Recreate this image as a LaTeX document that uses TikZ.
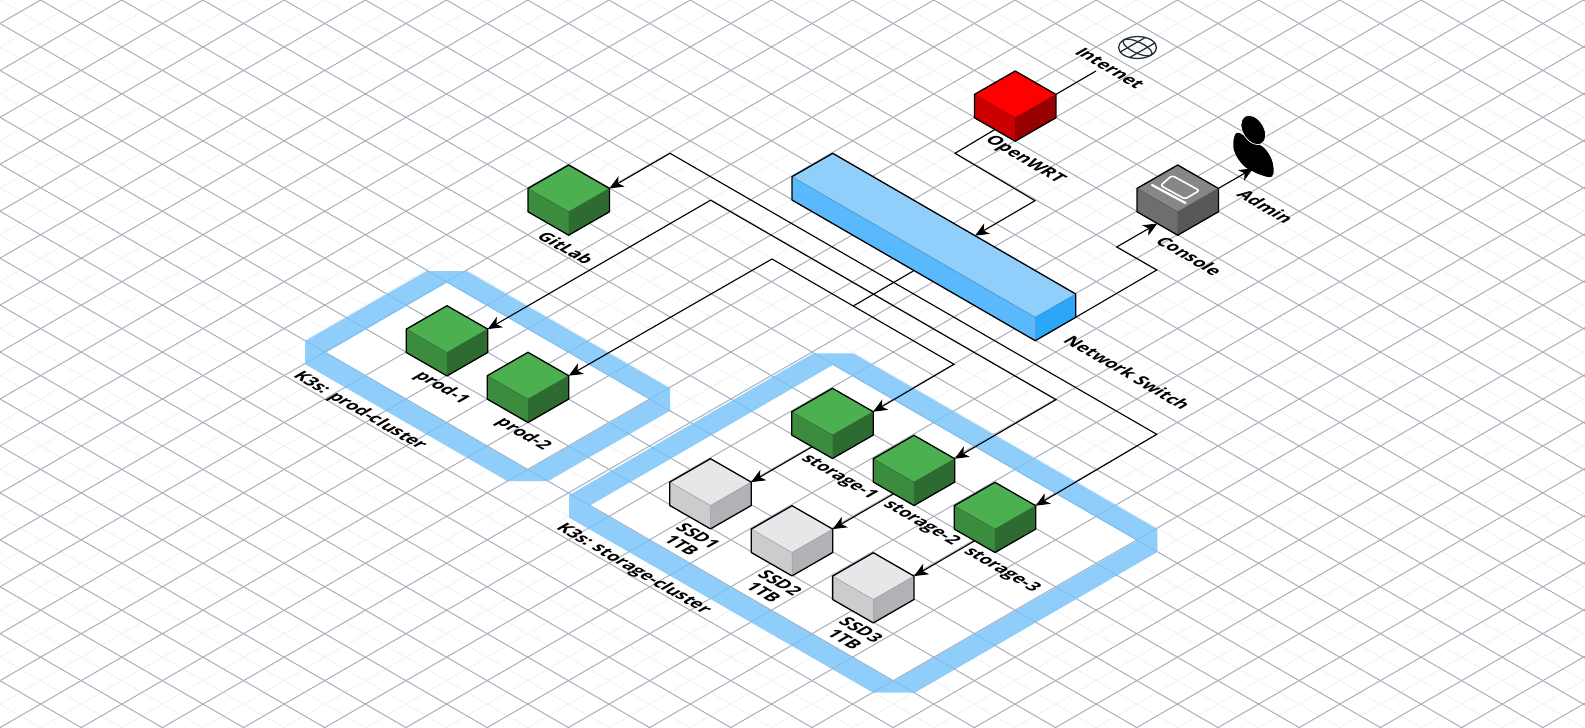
\documentclass[tikz,border=0pt]{standalone}
\usepackage{fontspec}
\setmainfont{Open Sans}
\usetikzlibrary{arrows.meta}
\definecolor{gridmajor}{HTML}{A8B0BC}
\definecolor{gridminor}{HTML}{F1F1F1}
\definecolor{frameblue}{HTML}{74C2FB}
\definecolor{green1}{HTML}{4CAF50}
\definecolor{green2}{HTML}{3C8C40}
\definecolor{green3}{HTML}{2E6B30}
\definecolor{grey1}{HTML}{E6E7E9}
\definecolor{grey2}{HTML}{CBCCCE}
\definecolor{grey3}{HTML}{B1B2B5}
\definecolor{red1}{HTML}{FF0000}
\definecolor{red2}{HTML}{CC0000}
\definecolor{red3}{HTML}{990000}
\definecolor{dark1}{HTML}{878787}
\definecolor{dark2}{HTML}{6E6E6E}
\definecolor{dark3}{HTML}{585858}
\definecolor{blue1}{HTML}{90CEFC}
\definecolor{blue2}{HTML}{5AB9FC}
\definecolor{blue3}{HTML}{2BA6F9}
\definecolor{globeink}{HTML}{232F3E}
\tikzset{
	link/.style={line width=1.1pt,-{Stealth[length=14pt,width=12pt,inset=4pt]}},
	wire/.style={line width=1.1pt},
	edgeline/.style={black,line width=1.3pt,line join=round},
	isotext/.style={font=\bfseries\fontsize{17.3}{19}\selectfont,black,align=center,inner sep=0pt,
		cm={.866,-.5,.866,.5,(0,0)}},
	clusterband/.style={fill=frameblue,even odd rule,opacity=.8},
}
% \isobox{name}{x}{y}{top}{left}{right}
\newcommand{\isobox}[6]{
	\coordinate (#1-t) at (#2,#3);
	\coordinate (#1-r) at (#2+40.7,#3+23.4);
	\coordinate (#1-l) at (#2-40.7,#3+23.4);
	\coordinate (#1-f) at (#2,#3+46.8);
	\coordinate (#1-rb) at (#2+40.7,#3+46.8);
	\coordinate (#1-lb) at (#2-40.7,#3+46.8);
	\coordinate (#1-fb) at (#2,#3+70.2);
	\coordinate (#1-out) at (#2-20.3,#3+58.5);
	\fill[#4] (#1-t) -- (#1-r) -- (#1-f) -- (#1-l) -- cycle;
	\fill[#5] (#1-l) -- (#1-f) -- (#1-fb) -- (#1-lb) -- cycle;
	\fill[#6] (#1-f) -- (#1-r) -- (#1-rb) -- (#1-fb) -- cycle;
	\draw[#5!75!black,line width=.5pt] (#1-l) -- (#1-f) -- (#1-fb) (#1-f) -- (#1-r);
	\draw[edgeline] (#1-t) -- (#1-r) -- (#1-rb) -- (#1-fb) -- (#1-lb) -- (#1-l) -- cycle;
}
\newcommand{\greenbox}[3]{\isobox{#1}{#2}{#3}{green1}{green2}{green3}}
\newcommand{\greybox}[3]{\isobox{#1}{#2}{#3}{grey1}{grey2}{grey3}}
\begin{document}
\begin{tikzpicture}[x=1pt,y=-1pt]
\def\dx{40.6}
\def\dy{23.47}
\useasboundingbox (0,0) rectangle (1585,728);
\fill[white] (0,0) rectangle (1585,728);
% grid
\begin{scope}
\clip (0,0) rectangle (1585,728);
\foreach \k in {-38,...,38}{
	\draw[gridminor,line width=.8pt] ({\k*2*\dx},0) ++({-\dx*32},{-\dy*32}) -- ++({\dx*100},{\dy*100});
	\draw[gridminor,line width=.8pt] ({\k*2*\dx+\dx*40},0) ++({\dx*32},{-\dy*32}) -- ++({-\dx*100},{\dy*100});
}
% cluster floors hide the fine lines
\fill[white] (446.7,282.7) -- (650,399.4) -- (528,470) -- (326,352.5) -- cycle;
\fill[white] (832.7,365) -- (1137,540.7) -- (893.5,681) -- (589.5,505.7) -- cycle;
\foreach \k in {-38,...,38}{
	\draw[gridmajor,line width=1pt] ({(\k*2+1)*\dx},0) ++({-\dx*32},{-\dy*32}) -- ++({\dx*100},{\dy*100});
	\draw[gridmajor,line width=1pt] ({(\k*2+1)*\dx+\dx*40},0) ++({\dx*32},{-\dy*32}) -- ++({-\dx*100},{\dy*100});
}
\end{scope}
% clusters
\fill[clusterband] (305,341) -- (426.7,271) -- (466.7,271) -- (670,388.3) -- (670,410.7)
	-- (548,481) -- (507.5,481) -- (305,364) -- cycle
	(446.7,282.7) -- (650,399.4) -- (528,470) -- (326,352.5) -- cycle;
\fill[clusterband] (569,495.3) -- (813.3,353.3) -- (853.3,353.3) -- (1157.3,529) -- (1157.3,552)
	-- (914.7,692.7) -- (873.3,692.7) -- (569,517.5) -- cycle
	(832.7,365) -- (1137,540.7) -- (893.5,681) -- (589.5,505.7) -- cycle;
% network switch
\coordinate (switch-t) at (832.7,153.3);
\coordinate (switch-r) at (1075.7,294);
\coordinate (switch-f) at (1035.3,317.3);
\coordinate (switch-l) at (792,176.7);
\coordinate (switch-rb) at (1075.7,317.3);
\coordinate (switch-fb) at (1035.3,340.7);
\coordinate (switch-lb) at (792,200);
\fill[blue1] (switch-t) -- (switch-r) -- (switch-f) -- (switch-l) -- cycle;
\fill[blue2] (switch-l) -- (switch-f) -- (switch-fb) -- (switch-lb) -- cycle;
\fill[blue3] (switch-f) -- (switch-r) -- (switch-rb) -- (switch-fb) -- cycle;
\draw[blue2!75!black,line width=.5pt] (switch-l) -- (switch-f) -- (switch-fb) (switch-f) -- (switch-r);
\draw[edgeline] (switch-t) -- (switch-r) -- (switch-rb) -- (switch-fb) -- (switch-lb) -- (switch-l) -- cycle;
% boxes
\isobox{wrt}{1015.2}{71}{red1}{red2}{red3}
\isobox{console}{1177.7}{165}{dark1}{dark2}{dark3}
\greenbox{gitlab}{568.7}{165}
\greenbox{prodA}{447}{305.7}
\greenbox{prodB}{528}{352.3}
\greenbox{storageA}{832.5}{388.3}
\greenbox{storageB}{914}{435.3}
\greenbox{storageC}{995}{482.3}
\greybox{ssdA}{710.5}{458.7}
\greybox{ssdB}{792}{505.7}
\greybox{ssdC}{873.3}{552.7}
% laptop
\draw[white,line width=1.6pt,rounded corners=2.5pt] (1172,175.5) -- (1199.5,190.5) -- (1185,199) -- (1160.5,185.5) -- cycle;
\draw[white,line width=2.2pt,line cap=round] (1152,185) -- (1185.5,203);
% globe
\begin{scope}[shift={(1137.5,47.5)},x={(.866pt,.5pt)},y={(.866pt,-.5pt)},globeink,line width=1.3pt]
\draw (0,0) circle[radius=15.5];
\draw (0,0) ellipse[x radius=6.5,y radius=15.5];
\draw (-14.5,5.5) -- (14.5,5.5) (-14.5,-5.5) -- (14.5,-5.5);
\end{scope}
% admin
\fill[black] plot[smooth cycle,tension=.7] coordinates {(1236.5,133) (1233.3,142) (1235,153) (1243,165) (1253,171.5) (1264,176) (1272,176.5) (1273.5,168) (1270.5,157) (1263,147) (1253,142) (1243,135)};
\fill[black,draw=white,line width=.7pt,rotate around={-58:(1253.3,130)}] (1253.3,130) ellipse[x radius=16,y radius=10.5];
\coordinate (adminin) at (1253.3,168.3);
\coordinate (inetend) at (1096,71);
% connectors
\draw[wire] (wrt-r) -- (inetend);
\coordinate (wrtbendA) at (955,153.3);
\coordinate (wrtbendB) at (1035,200.7);
\coordinate (switchin) at (975,235.7);
\draw[link] (wrt-out) -- (wrtbendA) -- (wrtbendB) -- (switchin);
\coordinate (consolebendA) at (1156.7,270);
\coordinate (consolebendB) at (1116.7,247);
\draw[link] (switch-rb) -- (consolebendA) -- (consolebendB) -- (console-out);
\draw[link] (console-r) -- (adminin);
\coordinate (busAa) at (670,153.3);
\coordinate (busAb) at (1156.7,434.3);
\coordinate (busBa) at (710.6,200.2);
\coordinate (busBb) at (1056,399.7);
\coordinate (busCa) at (772,259);
\coordinate (busCb) at (954,364.3);
\draw[link] (busAa) -- (busAb) -- (storageC-r);
\draw[link] (busAa) -- (gitlab-r);
\draw[link] (busBa) -- (busBb) -- (storageB-r);
\draw[link] (busBa) -- (prodA-r);
\draw[link] (busCa) -- (busCb) -- (storageA-r);
\draw[link] (busCa) -- (prodB-r);
\coordinate (switchout) at (913.3,271);
\coordinate (busCjoin) at (853.3,306);
\draw[wire] (switchout) -- (busCjoin);
\draw[link] (storageA-out) -- (ssdA-r);
\draw[link] (storageB-out) -- (ssdB-r);
\draw[link] (storageC-out) -- (ssdC-r);
% labels
\node[isotext] (inetlabel) at (1110,68) {Internet};
\node[isotext] (wrtlabel) at (1024.5,160) {OpenWRT};
\node[isotext] (consolelabel) at (1189.5,256) {Console};
\node[isotext] (adminlabel) at (1265.7,206.5) {Admin};
\node[isotext] (switchlabel) at (1127.5,372.5) {Network Switch};
\node[isotext] (gitlablabel) at (566,248) {GitLab};
\node[isotext] (prodAlabel) at (441.5,388) {prod-1};
\node[isotext] (prodBlabel) at (523,434.5) {prod-2};
\node[isotext] (prodcluster) at (359.5,411) {K3s: prod-cluster};
\node[isotext] (storageAlabel) at (839,477) {storage-1};
\node[isotext] (storageBlabel) at (921,523) {storage-2};
\node[isotext] (storageClabel) at (1001.5,570) {storage-3};
\node[isotext] (storagecluster) at (633.3,569) {K3s: storage-cluster};
\node[isotext] (ssdAlabel) at (690,540.5) {SSD1\\1TB};
\node[isotext] (ssdBlabel) at (772,587.5) {SSD2\\1TB};
\node[isotext] (ssdClabel) at (853,634.5) {SSD3\\1TB};
\end{tikzpicture}
\end{document}
